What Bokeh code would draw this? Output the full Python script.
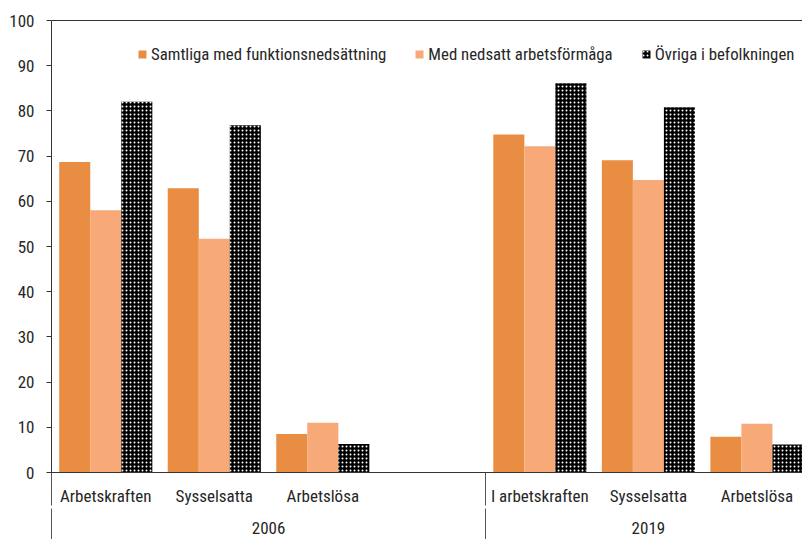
from bokeh.plotting import figure
from bokeh.models import (Range1d, LinearAxis, FixedTicker, Legend, LegendItem,
                          ColumnDataSource)
from bokeh.embed import file_html
from bokeh.resources import INLINE

# ---- data ----
categories = ["Arbetskraften", "Sysselsatta", "Arbetslösa", "",
              "I arbetskraften", "Sysselsatta", "Arbetslösa"]
years = ["2006", "2019"]
year_spans = [(0, 3), (4, 6)]          # slot index ranges of each year group
series_names = ["Samtliga med funktionsnedsättning",
                "Med nedsatt arbetsförmåga",
                "Övriga i befolkningen"]
samtliga = [68.7, 62.9, 8.5, 74.8, 69.1, 7.9]
nedsatt = [58.0, 51.7, 11.0, 72.2, 64.7, 10.8]
ovriga = [82.0, 76.8, 6.3, 86.1, 80.8, 6.2]
y_ticks = list(range(0, 101, 10))

FONT = "'Roboto Condensed', 'DejaVu Sans Condensed', sans-serif"
TXT = "#262626"
C1 = "#E88D42"
C2 = "#F7A978"

slots = [i for i, c in enumerate(categories) if c]
bw = 0.286

p = figure(width=802, height=539, output_backend="svg", toolbar_location=None,
           x_range=Range1d(-0.5, 6.42), y_range=Range1d(0, 100),
           min_border_left=51, min_border_right=0, min_border_top=20,
           min_border_bottom=67, x_axis_type=None, y_axis_type=None)
p.outline_line_color = None
p.xgrid.visible = False
p.ygrid.visible = False
p.background_fill_color = "white"

renderers = []
for k, (vals, name) in enumerate(zip([samtliga, nedsatt, ovriga], series_names)):
    xs = [s + (k - 1) * bw for s in slots]
    src = ColumnDataSource(dict(x=xs, top=vals))
    if k == 2:
        r = p.vbar(x="x", top="top", width=bw, source=src, fill_color="black",
                   line_color=None, hatch_pattern=".", hatch_color="white",
                   hatch_scale=4, hatch_weight=2)
    else:
        r = p.vbar(x="x", top="top", width=bw, source=src,
                   fill_color=[C1, C2][k], line_color=None)
    renderers.append(r)

# y axis
yax = LinearAxis(ticker=FixedTicker(ticks=y_ticks))
yax.major_tick_out = 5
yax.major_tick_in = 0
yax.minor_tick_line_color = None
yax.axis_line_color = "#333333"
yax.major_tick_line_color = "#333333"
yax.major_label_text_font = FONT
yax.major_label_text_font_size = "17px"
yax.major_label_text_color = TXT
yax.major_label_standoff = 12
p.add_layout(yax, "left")

# top border line
top = LinearAxis(ticker=FixedTicker(ticks=[]))
top.axis_line_color = "#333333"
top.major_tick_line_color = None
top.minor_tick_line_color = None
top.major_tick_out = 0
top.minor_tick_out = 0
top.major_label_text_font_size = "0px"
top.major_label_standoff = 0
p.add_layout(top, "above")

# category axis
ax1 = LinearAxis(ticker=FixedTicker(ticks=slots, minor_ticks=[-0.5, 3.5]))
ax1.major_label_overrides = {s: categories[s] for s in slots}
ax1.axis_line_color = "#333333"
ax1.major_tick_line_color = None
ax1.major_tick_out = 0
ax1.major_tick_in = 0
ax1.minor_tick_out = 33
ax1.minor_tick_in = 0
ax1.minor_tick_line_color = "#555555"
ax1.major_label_text_font = FONT
ax1.major_label_text_font_size = "17px"
ax1.major_label_text_color = TXT
ax1.major_label_standoff = -20
p.add_layout(ax1, "below")

# year axis
year_pos = [(a + b) / 2 for a, b in year_spans]
ax2 = LinearAxis(ticker=FixedTicker(ticks=year_pos, minor_ticks=[-0.5, 3.5]))
ax2.major_label_overrides = {pos: y for pos, y in zip(year_pos, years)}
ax2.axis_line_color = None
ax2.major_tick_line_color = None
ax2.major_tick_out = 0
ax2.major_tick_in = 0
ax2.minor_tick_out = 40
ax2.minor_tick_in = 0
ax2.minor_tick_line_color = "#555555"
ax2.major_label_text_font = FONT
ax2.major_label_text_font_size = "17px"
ax2.major_label_text_color = TXT
ax2.major_label_standoff = -27
p.add_layout(ax2, "below")

legend = Legend(items=[LegendItem(label=n, renderers=[r])
                       for n, r in zip(series_names, renderers)],
                orientation="horizontal", location=(86, 408))
legend.spacing = 28
legend.label_standoff = 4
legend.glyph_width = 10
legend.glyph_height = 10
legend.padding = 0
legend.margin = 0
legend.border_line_color = None
legend.background_fill_alpha = 0
legend.label_text_font = FONT
legend.label_text_font_size = "16.8px"
legend.label_text_color = TXT
p.add_layout(legend)

open("out.html", "w").write(file_html(p, INLINE))
